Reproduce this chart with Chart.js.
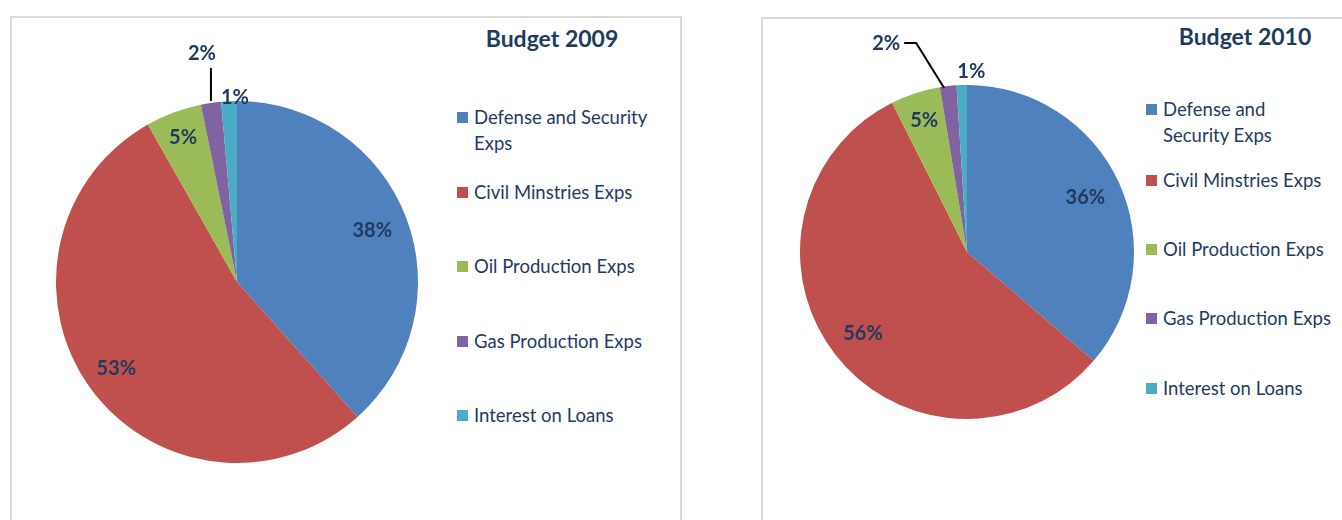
<!DOCTYPE html>
<html>
<head>
<meta charset="utf-8">
<script src="https://cdn.jsdelivr.net/npm/chart.js@4"></script>
<style>
  body { margin: 0; width: 1342px; height: 520px; background: #fff; position: relative; overflow: hidden; font-family: Lato, "Open Sans", sans-serif; }
  .panel { position: absolute; border: 2px solid #d9d9d9; height: 560px; box-sizing: border-box; }
  .wrap { position: absolute; }
  .title { position: absolute; font-weight: bold; font-size: 23px; color: #1f3b5f; white-space: nowrap; transform: translateX(-50%); }
  .item { position: absolute; font-size: 18.5px; line-height: 26px; color: #1f3b5f; }
  .item i { position: absolute; left: -17px; top: 8px; width: 11px; height: 11px; }
</style>
</head>
<body>
<div class="panel" style="left:10px;top:16px;width:672px"></div>
<div class="panel" style="left:761px;top:17px;width:620px"></div>
<div class="wrap" style="left:12px;top:18px;width:460px;height:500px"><canvas id="chart2009"></canvas></div>
<div class="wrap" style="left:763px;top:19px;width:400px;height:500px"><canvas id="chart2010"></canvas></div>
<script>
// --- Data ---
const categories = ['Defense and Security Exps', 'Civil Minstries Exps', 'Oil Production Exps', 'Gas Production Exps', 'Interest on Loans'];
const budget2009 = [38.4, 53.4, 5.0, 1.8, 1.4];
const budget2010 = [36.3, 56.3, 4.8, 1.6, 1.0];
const colors = ['#4f81bd', '#c0504d', '#9bbb59', '#8064a2', '#4bacc6'];

// draws the % labels (and leader line for the small slice)
const sliceLabels = {
    id: 'sliceLabels',
    afterDatasetsDraw(chart, args, opts) {
        const ctx = chart.ctx;
        const meta = chart.getDatasetMeta(0);
        const data = chart.data.datasets[0].data;
        ctx.save();
        ctx.font = 'bold 20px Lato, "Open Sans", sans-serif';
        ctx.fillStyle = '#1f3a60';
        ctx.textAlign = 'center';
        ctx.textBaseline = 'middle';
        meta.data.forEach((arc, i) => {
            const p = arc.getProps(['x', 'y', 'startAngle', 'endAngle', 'outerRadius'], true);
            const mid = (p.startAngle + p.endAngle) / 2;
            const ex = p.x + Math.cos(mid) * p.outerRadius;
            const ey = p.y + Math.sin(mid) * p.outerRadius;
            const text = Math.round(data[i]) + '%';
            const lead = opts.leaders[i];
            if (lead) {
                ctx.strokeStyle = '#000';
                ctx.lineWidth = 2;
                ctx.beginPath();
                lead.path.forEach(([dx, dy], k) => k ? ctx.lineTo(ex + dx, ey + dy) : ctx.moveTo(ex + dx, ey + dy));
                ctx.stroke();
                ctx.fillText(text, ex + lead.label[0], ey + lead.label[1]);
            } else {
                const r = p.outerRadius * opts.radius[i];
                const shift = opts.shift[i] || [0, 0];
                ctx.fillText(text, p.x + Math.cos(mid) * r + shift[0], p.y + Math.sin(mid) * r + shift[1]);
            }
        });
        ctx.restore();
    }
};

function makePie(id, values, padding, labelOpts) {
    new Chart(document.getElementById(id), {
        type: 'pie',
        data: {
            labels: categories,
            datasets: [{ data: values, backgroundColor: colors, borderWidth: 0 }]
        },
        options: {
            responsive: true,
            maintainAspectRatio: false,
            animation: false,
            layout: { padding: padding },
            plugins: {
                legend: { display: false },
                tooltip: { enabled: false },
                sliceLabels: labelOpts
            }
        },
        plugins: [sliceLabels]
    });
}

function makeLegend(title, titlePos, left, tops, width) {
    const t = document.createElement('div');
    t.className = 'title';
    t.textContent = title;
    t.style.left = titlePos[0] + 'px';
    t.style.top = titlePos[1] + 'px';
    document.body.appendChild(t);
    categories.forEach((name, i) => {
        const el = document.createElement('div');
        el.className = 'item';
        el.style.left = left + 'px';
        el.style.top = tops[i] + 'px';
        el.style.width = width + 'px';
        el.innerHTML = '<i style="background:' + colors[i] + '"></i>' + name;
        document.body.appendChild(el);
    });
}

makePie('chart2009', budget2009, { left: 44, top: 83, right: 54, bottom: 55 }, {
    radius: [0.8, 0.82, 0.85, 1, 1.02],
    shift: [null, null, null, null, [6, 0]],
    leaders: [null, null, null, { path: [[0, -2], [0, -35]], label: [-9, -49] }, null]
});
makePie('chart2010', budget2010, { left: 37, top: 66, right: 29, bottom: 100 }, {
    radius: [0.78, 0.79, 0.83, 1, 1.08],
    shift: [null, null, null, null, [10, 0]],
    leaders: [null, null, null, { path: [[-4, 2], [-32, -43], [-44, -43]], label: [-62, -43] }, null]
});

makeLegend('Budget 2009', [552, 24], 474, [104, 179, 253, 328, 402], 192);
makeLegend('Budget 2010', [1245, 22], 1163, [96, 167, 236, 305, 375], 168);
</script>
</body>
</html>
